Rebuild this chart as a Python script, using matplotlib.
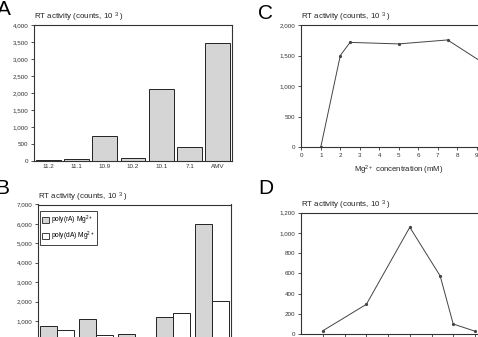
import numpy as np
import matplotlib
matplotlib.use('Agg')
import matplotlib.pyplot as plt
from matplotlib.ticker import FuncFormatter, MultipleLocator
from matplotlib.patches import Patch

plt.rcParams['font.family'] = ['Liberation Sans', 'DejaVu Sans']
plt.rcParams['mathtext.fontset'] = 'custom'
plt.rcParams['mathtext.rm'] = 'Liberation Sans'
plt.rcParams['mathtext.it'] = 'Liberation Sans'

# panel A: RT activity per fraction
a_labels = ['11.2', '11.1', '10.9', '10.2', '10.1', '7.1', 'AMV']
a_values = [30, 45, 735, 85, 2130, 415, 3460]

# panel B: two templates per sample
b_rA = [740, 1090, 330, 1190, 5970]
b_dA = [510, 275, 110, 1400, 2030]

# panel C: Mg2+ titration
c_mg = [1, 2, 2.5, 5, 7.5, 10]
c_act = [0, 1500, 1715, 1690, 1755, 1240]

# panel D: second titration
d_x = [1, 3, 5, 6.4, 7, 8]
d_act = [33, 294, 1056, 574, 99, 28]

title = 'RT activity (counts, 10 $^{3}$ )'
W, H = 478, 337
ink = '#333333'
grey = '#d5d5d5'


def box(l, t, r, b):
    return [l / W, 1 - b / H, (r - l) / W, (b - t) / H]


def thousands(v, pos):
    return '{:,.0f}'.format(v)


def style(ax, top_px):
    for s in ax.spines.values():
        s.set_linewidth(0.8)
        s.set_color(ink)
    ax.tick_params(labelsize=4.5, colors=ink, length=2.2, width=0.6, pad=2)
    ax.yaxis.set_major_formatter(FuncFormatter(thousands))
    h = ax.get_position().height * H
    ax.text(0, 1 + top_px / h, title, transform=ax.transAxes, ha='left',
            va='baseline', fontsize=5.7, color='#222')


fig = plt.figure(figsize=(4.78, 3.37), dpi=100)

# A
axA = fig.add_axes(box(34, 25, 232, 161))
xa = np.arange(len(a_values))
axA.bar(xa, a_values, width=0.88, color=grey, edgecolor='#222', linewidth=0.7)
axA.set_xlim(-0.5, 6.5)
axA.set_ylim(0, 4000)
axA.yaxis.set_major_locator(MultipleLocator(500))
axA.set_xticks(xa)
axA.set_xticklabels(a_labels)
style(axA, 5.5)
axA.tick_params(axis='x', length=0)

# B
axB = fig.add_axes(box(38, 204.5, 231, 340.3))
xb = np.arange(len(b_rA))
bw = 0.44
axB.bar(xb - bw / 2, b_rA, width=bw, color=grey, edgecolor='#222', linewidth=0.7)
axB.bar(xb + bw / 2, b_dA, width=bw, color='white', edgecolor='#222', linewidth=0.7)
axB.set_xlim(-0.5, 4.5)
axB.set_ylim(0, 7000)
axB.set_yticks(range(1000, 7001, 1000))
axB.set_xticks([])
style(axB, 4.5)
handles = [Patch(facecolor=grey, edgecolor='#222', linewidth=0.6),
           Patch(facecolor='white', edgecolor='#222', linewidth=0.6)]
leg = axB.legend(handles, ['poly(rA) Mg$^{2+}$', 'poly(dA) Mg$^{2+}$'],
                 loc='upper left', bbox_to_anchor=(0.01, 0.952), borderaxespad=0,
                 fontsize=4.8, fancybox=False, framealpha=1, handlelength=1.0,
                 handleheight=1.0, handletextpad=0.25, borderpad=0.35,
                 labelspacing=0.4)
leg.get_frame().set_edgecolor('#222')
leg.get_frame().set_linewidth(0.6)

# C
axC = fig.add_axes(box(301.3, 25, 496.3, 147))
axC.plot(c_mg, c_act, color='#444', linewidth=0.7, marker='o', markersize=1.3)
axC.set_xlim(0, 10)
axC.set_ylim(0, 2000)
axC.set_xticks(range(0, 11))
axC.yaxis.set_major_locator(MultipleLocator(500))
style(axC, 5.5)
axC.spines['right'].set_visible(False)
axC.set_xlabel('Mg$^{2+}$ concentration (mM)', fontsize=5.6, color='#222', labelpad=4)
axC.xaxis.set_label_coords(97 / 195, -17 / 122)

# D
axD = fig.add_axes(box(301.3, 212.7, 496.6, 334))
axD.plot(d_x, d_act, color='#444', linewidth=0.7, marker='o', markersize=1.3)
axD.set_xlim(0, 9)
axD.set_ylim(0, 1200)
axD.set_xticks(range(1, 10))
axD.set_xticklabels([])
axD.yaxis.set_major_locator(MultipleLocator(200))
style(axD, 5.5)
axD.spines['right'].set_visible(False)

# panel letters
for letter, x, y in [('A', -3, 15), ('B', -5, 194), ('C', 258, 19), ('D', 258, 194)]:
    fig.text(x / W, 1 - y / H, letter, fontsize=15, ha='left', va='baseline', color='black')

fig.savefig('out.png', dpi=100)
